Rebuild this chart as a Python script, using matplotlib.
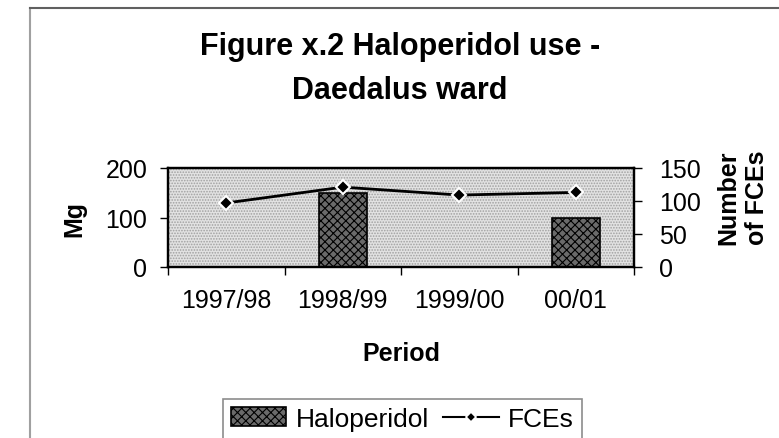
import matplotlib
matplotlib.use("Agg")
import matplotlib.pyplot as plt
from matplotlib.lines import Line2D
import numpy as np

plt.rcParams['font.family'] = ['Liberation Sans', 'DejaVu Sans']
plt.rcParams['hatch.linewidth'] = 0.8

periods = ["1997/98", "1998/99", "1999/00", "00/01"]
haloperidol_mg = [0, 150, 0, 100]
fces = [97, 121, 109, 113]
left_ticks = [0, 100, 200]
right_ticks = [0, 50, 100, 150]

W, H = 779, 439
fig = plt.figure(figsize=(W / 100, H / 100), dpi=100)
fig.patch.set_facecolor("white")

# chart-area border (gray), extends past right and bottom edge
fig.add_artist(Line2D([30 / W, 30 / W], [0, 1 - 9 / H], color="#a0a0a0", lw=1.5, transform=fig.transFigure))
fig.add_artist(Line2D([30 / W, 1], [1 - 9 / H, 1 - 9 / H], color="#606060", lw=1.5, transform=fig.transFigure))

ax = fig.add_axes([168 / W, 1 - 268 / H, (634 - 168) / W, (268 - 169) / H])
ax.set_facecolor("#e2e2e2")
ax.patch.set_hatch("......")
ax.patch.set_edgecolor("#a0a0a0")

x = np.arange(len(periods))
bars = ax.bar(x, haloperidol_mg, width=0.41, facecolor="#6a6a6a", edgecolor="black",
              hatch="xxxx", linewidth=1.2, label="Haloperidol", zorder=2)
ax.set_xlim(-0.5, len(periods) - 0.5)
ax.set_ylim(0, 200)
ax.set_yticks(left_ticks)
ax.set_xticks(np.arange(len(periods) + 1) - 0.5, minor=False)
ax.set_xticklabels([])
ax.set_xticks(x, minor=True)
ax.set_xticklabels(periods, minor=True)
ax.tick_params(axis="x", which="minor", length=0, pad=15, labelsize=18)
ax.tick_params(axis="x", which="major", length=6, width=1, direction="out")
ax.tick_params(axis="y", length=6, width=1, direction="out", pad=9, labelsize=18)
for s in ax.spines.values():
    s.set_linewidth(1.6)
ax.set_xlabel("Period", fontsize=18, fontweight="bold", labelpad=21)
fig.text(74 / W, 1 - 219 / H, "Mg", rotation=90, ha="center", va="center",
         fontsize=18, fontweight="bold")

ax2 = ax.twinx()
line, = ax2.plot(x, fces, color="black", lw=2, marker="D", markersize=7,
                 markerfacecolor="black", markeredgecolor="white", markeredgewidth=1.5,
                 label="FCEs", zorder=3)
ax2.set_ylim(0, 150)
ax2.set_yticks(right_ticks)
ax2.tick_params(axis="y", length=6, width=1, direction="out", pad=12, labelsize=18)
for s in ax2.spines.values():
    s.set_linewidth(1.6)
fig.text(743 / W, 1 - 198 / H, "Number\nof FCEs", rotation=90, ha="center", va="center",
         fontsize=18, fontweight="bold", linespacing=1.25, multialignment="center")

fig.text(400 / W, 1 - 69 / H, "Figure x.2 Haloperidol use -\nDaedalus ward",
         ha="center", va="center", fontsize=22, fontweight="bold", linespacing=1.65)

legend_line = Line2D([], [], color="black", lw=1.5, marker="D", markersize=5,
                     markerfacecolor="black", markeredgecolor="white", markeredgewidth=1.2)
leg = fig.legend([bars, legend_line], ["Haloperidol", "FCEs"], loc="upper left",
                 bbox_to_anchor=(223 / W, 1 - 400 / H), ncol=2, fontsize=19,
                 frameon=True, fancybox=False, edgecolor="#707070", borderaxespad=0,
                 handlelength=2.1, handletextpad=0.35, columnspacing=0.55,
                 borderpad=0.3)
leg.get_frame().set_linewidth(1.2)

fig.savefig("out.png", dpi=100, facecolor="white")
